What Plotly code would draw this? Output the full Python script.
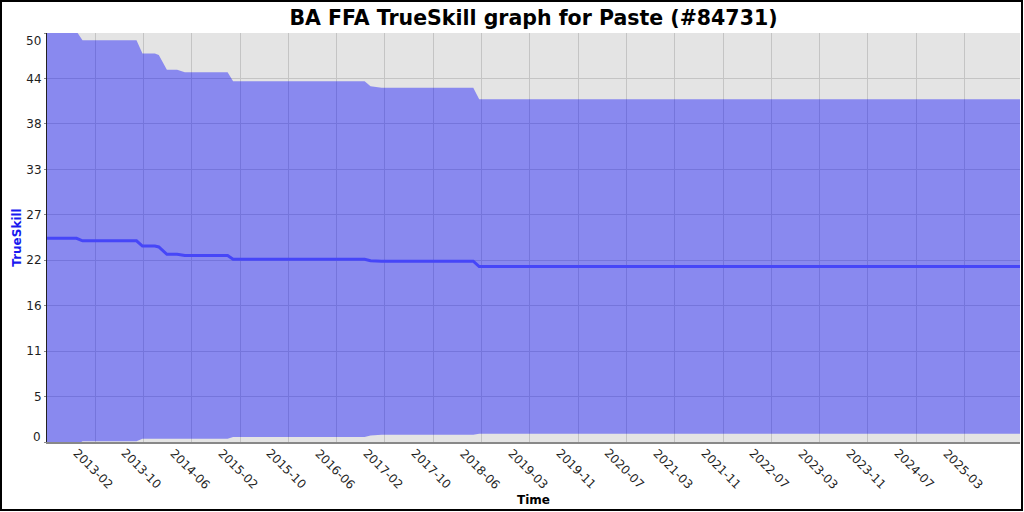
"""TrueSkill history chart (mean with +/- band) for a single player."""

import plotly.graph_objects as go

# ── Data ──────────────────────────────────────────────────────────────────────

dates = [
    "2012-06-16", "2012-11-13", "2012-12-13", "2013-09-13", "2013-10-13",
    "2013-12-15", "2014-01-04", "2014-02-14", "2014-04-07", "2014-05-16",
    "2014-12-19", "2015-01-16", "2016-11-13", "2016-12-13", "2017-02-07",
    "2018-05-18", "2018-06-17", "2025-12-20",
]
upper = [
    50.2, 50.2, 49.1, 49.1, 47.5,
    47.5, 47.3, 45.5, 45.5, 45.2,
    45.2, 44.1, 44.1, 43.5, 43.3,
    43.3, 41.9, 41.9,
]
mean = [
    24.9, 24.9, 24.6, 24.6, 23.95,
    23.95, 23.85, 22.95, 22.95, 22.8,
    22.8, 22.35, 22.35, 22.15, 22.1,
    22.1, 21.45, 21.45,
]
lower = [
    -0.4, -0.4, 0.1, 0.1, 0.4,
    0.4, 0.4, 0.4, 0.4, 0.4,
    0.4, 0.6, 0.6, 0.8, 0.9,
    0.9, 1.0, 1.0,
]

x_range = ["2012-06-16", "2025-12-20"]
tick_dates = [
    "2013-02-15", "2013-10-18", "2014-06-20", "2015-02-20", "2015-10-23",
    "2016-06-24", "2017-02-24", "2017-10-27", "2018-06-29", "2019-03-01",
    "2019-11-01", "2020-07-03", "2021-03-05", "2021-11-05", "2022-07-08",
    "2023-03-10", "2023-11-10", "2024-07-12", "2025-03-14",
]
tick_labels = [
    "2013-02", "2013-10", "2014-06", "2015-02", "2015-10",
    "2016-06", "2017-02", "2017-10", "2018-06", "2019-03",
    "2019-11", "2020-07", "2021-03", "2021-11", "2022-07",
    "2023-03", "2023-11", "2024-07", "2025-03",
]
y_ticks = [0, 50 / 9, 100 / 9, 150 / 9, 200 / 9, 250 / 9, 300 / 9, 350 / 9, 400 / 9, 50]
y_tick_labels = ["0", "5", "11", "16", "22", "27", "33", "38", "44", "50"]

TITLE = "BA FFA TrueSkill graph for Paste (#84731)"
FONT = "DejaVu Sans"
W, H = 1024, 512
M = dict(l=47, r=4, t=33, b=70)
TICK_FONT = dict(family=FONT, size=12, color="#1e1e1e")

# ── Figure ────────────────────────────────────────────────────────────────────

fig = go.Figure()

fig.add_trace(go.Scatter(
    x=dates, y=lower, mode="lines", line=dict(width=0),
    showlegend=False, hoverinfo="skip",
))
fig.add_trace(go.Scatter(
    x=dates, y=upper, mode="lines", line=dict(width=0),
    fill="tonexty", fillcolor="rgba(0,0,255,0.4)",
    showlegend=False, hoverinfo="skip",
))
fig.add_trace(go.Scatter(
    x=dates, y=mean, mode="lines",
    line=dict(color="#4646f8", width=3),
    showlegend=False,
))

# rotated month labels, centred on each tick
for d, lab in zip(tick_dates, tick_labels):
    fig.add_annotation(
        x=d, xref="x", y=0, yref="paper",
        xanchor="center", yanchor="middle", yshift=-27, xshift=-2,
        text=lab, textangle=45, showarrow=False, font=TICK_FONT,
    )

# end labels of the y axis are nudged inside the plot height
for val, lab, shift in [(y_ticks[0], y_tick_labels[0], 5),
                        (y_ticks[-1], y_tick_labels[-1], -8)]:
    fig.add_annotation(
        x=0, xref="paper", y=val, yref="y",
        xanchor="right", yanchor="middle", xshift=-4, yshift=shift,
        text=lab, showarrow=False, font=TICK_FONT,
    )

# outer frame round the whole image
pw = W - M["l"] - M["r"]
ph = H - M["t"] - M["b"]
fig.add_shape(
    type="rect", xref="paper", yref="paper",
    x0=(1 - M["l"]) / pw, x1=(W - 2 - M["l"]) / pw,
    y0=-(M["b"] - 2) / ph, y1=(ph + M["t"] - 1) / ph,
    line=dict(color="black", width=2),
)

fig.update_layout(
    width=W, height=H,
    margin=M,
    paper_bgcolor="white", plot_bgcolor="#e4e4e4",
    font=dict(family=FONT, size=12, color="#222222"),
    title=dict(
        text=TITLE, x=0.5, xref="paper", y=0.965, yanchor="middle",
        font=dict(family=FONT, size=20.5, color="black", weight="bold"),
    ),
)
fig.update_xaxes(
    type="date", range=x_range,
    tickvals=tick_dates, showticklabels=False,
    showgrid=True, gridcolor="#c4c4c4", gridwidth=1.3,
    showline=True, linecolor="#888888", linewidth=2,
    zeroline=False,
    title=dict(text="Time", standoff=53,
               font=dict(family=FONT, size=12, color="black", weight="bold")),
)
fig.update_yaxes(
    range=[0, 50],
    tickvals=y_ticks,
    ticktext=[""] + y_tick_labels[1:-1] + [""],
    tickfont=TICK_FONT,
    ticks="outside", ticklen=2, tickcolor="#888888",
    showgrid=True, gridcolor="#c4c4c4", gridwidth=1.3,
    showline=True, linecolor="#222222", linewidth=1,
    zeroline=False,
    title=dict(text="TrueSkill", standoff=2,
               font=dict(family=FONT, size=12, color="#1a1af0", weight="bold")),
)

fig.write_html(
    "out.html",
    config={"displayModeBar": False},
    post_script="document.body.style.margin='0';",
)
